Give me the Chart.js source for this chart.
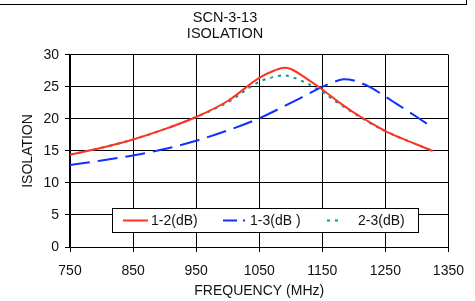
<!DOCTYPE html>
<html>
<head>
<meta charset="utf-8">
<script src="https://cdn.jsdelivr.net/npm/chart.js@4"></script>
<style>
  html, body { margin: 0; padding: 0; background: #fff; }
  #wrap { position: relative; width: 475px; height: 301px; }
  #frame { position: absolute; left: -2px; top: -2px; width: 468px; height: 5px; border: 1px solid #000; border-left: none; }
</style>
</head>
<body>
<div id="wrap">
  <div id="frame"></div>
  <canvas id="isoChart" width="475" height="301"></canvas>
</div>
<script>
// values (MHz, dB)
const freq12 = [750, 800, 850, 900, 950, 1000, 1050, 1075, 1090, 1100, 1125, 1150, 1175, 1200, 1225, 1250, 1275, 1300, 1325];
const iso12  = [14.4, 15.5, 16.8, 18.4, 20.3, 22.8, 26.4, 27.6, 28.0, 27.8, 26.3, 24.6, 22.7, 21.0, 19.5, 18.1, 17.0, 16.0, 15.0];
const freq13 = [750, 800, 850, 900, 950, 1000, 1050, 1100, 1150, 1175, 1185, 1200, 1225, 1250, 1275, 1300, 1320];
const iso13  = [12.8, 13.5, 14.3, 15.3, 16.6, 18.2, 20.1, 22.5, 25.0, 26.0, 26.2, 26.0, 25.0, 23.5, 21.9, 20.3, 19.0];
const freq23 = [750, 800, 850, 900, 950, 1000, 1050, 1075, 1090, 1100, 1125, 1150, 1175, 1200, 1225, 1250, 1275, 1300, 1325];
const iso23  = [14.4, 15.5, 16.8, 18.4, 20.3, 22.6, 25.8, 26.6, 26.8, 26.6, 25.6, 24.2, 22.5, 20.9, 19.4, 18.1, 17.0, 16.0, 15.0];
const seriesLabels = ['1-2(dB)', '1-3(dB )', '2-3(dB)'];
const titleLines = ['SCN-3-13', 'ISOLATION'];

const toPoints = (xs, ys) => xs.map((x, i) => ({ x: x, y: ys[i] }));
const family = '"Liberation Sans", Arial, sans-serif';
const font = { family: family, size: 14 };

// legend box drawn inside the plot area
const insideLegend = {
  id: 'insideLegend',
  afterDraw(chart) {
    const ctx = chart.ctx;
    const left = 112, top = 208, w = 306, h = 24;
    ctx.save();
    ctx.fillStyle = '#fff';
    ctx.fillRect(left, top, w, h);
    ctx.strokeStyle = '#000';
    ctx.lineWidth = 1;
    ctx.strokeRect(left + 0.5, top + 0.5, w, h);
    const items = [
      { x1: 123, x2: 148, tx: 151 },
      { x1: 223, x2: 247, tx: 250 },
      { x1: 327, x2: 343, tx: 358 }
    ];
    const cy = top + 12.5;
    ctx.font = '14px ' + family;
    ctx.textBaseline = 'middle';
    chart.data.datasets.forEach((ds, i) => {
      const it = items[i];
      ctx.strokeStyle = ds.borderColor;
      ctx.lineWidth = ds.borderWidth;
      ctx.setLineDash(i === 1 ? [14, 6, 2, 6] : (ds.borderDash || []));
      ctx.beginPath();
      ctx.moveTo(it.x1, cy);
      ctx.lineTo(it.x2, cy);
      ctx.stroke();
      ctx.setLineDash([]);
      ctx.fillStyle = '#111';
      ctx.fillText(ds.label, it.tx, cy + 1);
    });
    ctx.restore();
  }
};

new Chart(document.getElementById('isoChart'), {
  type: 'line',
  data: {
    datasets: [
      { label: seriesLabels[0], data: toPoints(freq12, iso12), borderColor: '#ff3322', borderWidth: 2, pointRadius: 0, cubicInterpolationMode: 'monotone' },
      { label: seriesLabels[1], data: toPoints(freq13, iso13), borderColor: '#1030ff', borderWidth: 2, borderDash: [20, 8], pointRadius: 0, cubicInterpolationMode: 'monotone' },
      { label: seriesLabels[2], data: toPoints(freq23, iso23), borderColor: '#009999', borderWidth: 2, borderDash: [3, 5], pointRadius: 0, cubicInterpolationMode: 'monotone' }
    ]
  },
  options: {
    responsive: false,
    animation: false,
    layout: { padding: { left: 0, right: 25, top: 0, bottom: 0 } },
    plugins: {
      legend: { display: false },
      tooltip: { enabled: false },
      title: {
        display: true,
        text: titleLines,
        color: '#111',
        font: { family: family, size: 14.5, weight: 'normal', lineHeight: 1.1 },
        padding: { top: 10, bottom: 13 }
      }
    },
    scales: {
      x: {
        type: 'linear',
        min: 750,
        max: 1350,
        afterFit: (s) => { s.height = 54; },
        ticks: { stepSize: 100, color: '#111', font: font, padding: 11, maxRotation: 0, callback: (v) => String(v) },
        grid: { color: '#000', lineWidth: 1, tickLength: 5, tickColor: '#000' },
        border: { color: '#000', width: 1 },
        title: { display: true, text: 'FREQUENCY (MHz)', color: '#111', font: font, padding: { top: 0, bottom: 1 } }
      },
      y: {
        min: 0,
        max: 30,
        afterFit: (s) => { s.width = 70; },
        ticks: { stepSize: 5, color: '#111', font: font, padding: 6 },
        grid: { color: '#000', lineWidth: 1, tickLength: 5, tickColor: '#000' },
        border: { color: '#000', width: 2 },
        title: { display: true, text: 'ISOLATION', color: '#111', font: font, padding: { top: 20, bottom: 0 } }
      }
    }
  },
  plugins: [insideLegend]
});
</script>
</body>
</html>
